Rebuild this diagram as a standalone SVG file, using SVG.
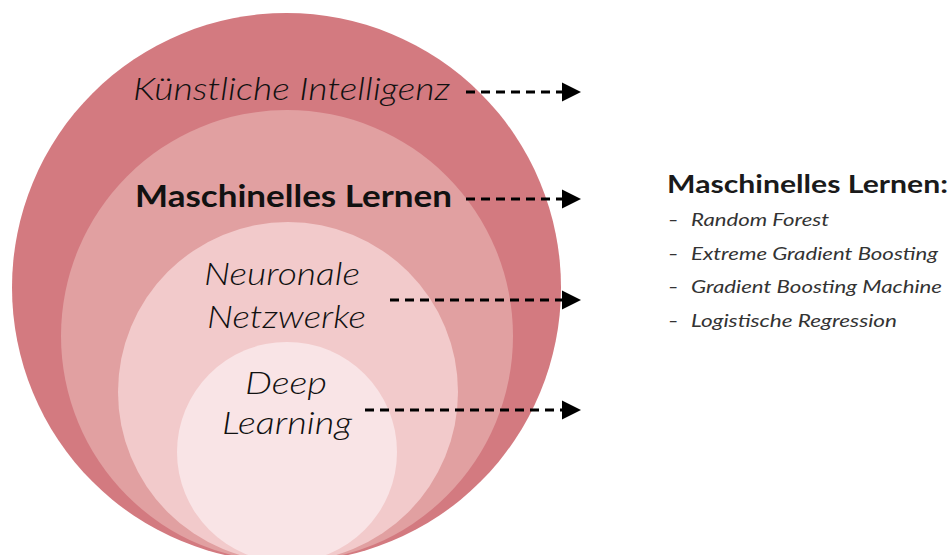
<svg xmlns="http://www.w3.org/2000/svg" width="951" height="555" viewBox="0 0 951 555">
<style>
.lbl{font-family:Lato,"Open Sans","DejaVu Sans",sans-serif;fill:#111;text-anchor:middle}
.it{font-style:italic;font-weight:300}
.bd{font-weight:700}
.conn{stroke:#000;stroke-width:3;stroke-dasharray:9 6;fill:none}
.ls{font-family:Lato,"Open Sans","DejaVu Sans",sans-serif;fill:#333;font-size:18px;font-style:italic;font-weight:400}
</style>
<defs>
<marker id="ah" viewBox="0 0 10 10" refX="0" refY="5" markerWidth="19" markerHeight="22" markerUnits="userSpaceOnUse" orient="auto">
<path d="M0,0L10,5L0,10Z" fill="#000"/>
</marker>
</defs>
<rect width="951" height="555" fill="#fff"/>
<g id="ki"><circle cx="286.5" cy="287.5" r="274.5" fill="#D37A80"/>
<text class="lbl it" x="291.5" y="100" font-size="31" textLength="317" lengthAdjust="spacingAndGlyphs">Künstliche Intelligenz</text></g>
<g id="ml"><circle cx="287" cy="336" r="226" fill="#E1A0A1"/>
<text class="lbl bd" x="293.5" y="207" font-size="30" textLength="317" lengthAdjust="spacingAndGlyphs">Maschinelles Lernen</text></g>
<g id="nn"><circle cx="288" cy="392" r="170" fill="#F2CACB"/>
<text class="lbl it" x="282" y="285" font-size="31" textLength="156" lengthAdjust="spacingAndGlyphs">Neuronale</text>
<text class="lbl it" x="286.5" y="328" font-size="31" textLength="159" lengthAdjust="spacingAndGlyphs">Netzwerke</text></g>
<g id="dl"><circle cx="287" cy="452" r="110" fill="#F9E4E6"/>
<text class="lbl it" x="286" y="394" font-size="31" textLength="82" lengthAdjust="spacingAndGlyphs">Deep</text>
<text class="lbl it" x="287" y="434" font-size="31" textLength="130" lengthAdjust="spacingAndGlyphs">Learning</text></g>
<g id="connectors">
<line class="conn" x1="466" y1="92" x2="562" y2="92" marker-end="url(#ah)"/>
<line class="conn" x1="466" y1="199" x2="562" y2="199" marker-end="url(#ah)"/>
<line class="conn" x1="390" y1="300" x2="562" y2="300" marker-end="url(#ah)"/>
<line class="conn" x1="365" y1="410" x2="562" y2="410" marker-end="url(#ah)"/>
</g>
<g id="list">
<text x="667" y="193" font-family="Lato,'Open Sans','DejaVu Sans',sans-serif" font-weight="700" font-size="25" fill="#1a1a1a" textLength="281" lengthAdjust="spacingAndGlyphs">Maschinelles Lernen:</text>
<text class="ls" x="668" y="226">–</text><text class="ls" x="691" y="226" textLength="138" lengthAdjust="spacingAndGlyphs">Random Forest</text>
<text class="ls" x="668" y="260">–</text><text class="ls" x="691" y="260" textLength="247" lengthAdjust="spacingAndGlyphs">Extreme Gradient Boosting</text>
<text class="ls" x="668" y="293">–</text><text class="ls" x="691" y="293" textLength="251" lengthAdjust="spacingAndGlyphs">Gradient Boosting Machine</text>
<text class="ls" x="668" y="327">–</text><text class="ls" x="691" y="327" textLength="206" lengthAdjust="spacingAndGlyphs">Logistische Regression</text>
</g>
</svg>
